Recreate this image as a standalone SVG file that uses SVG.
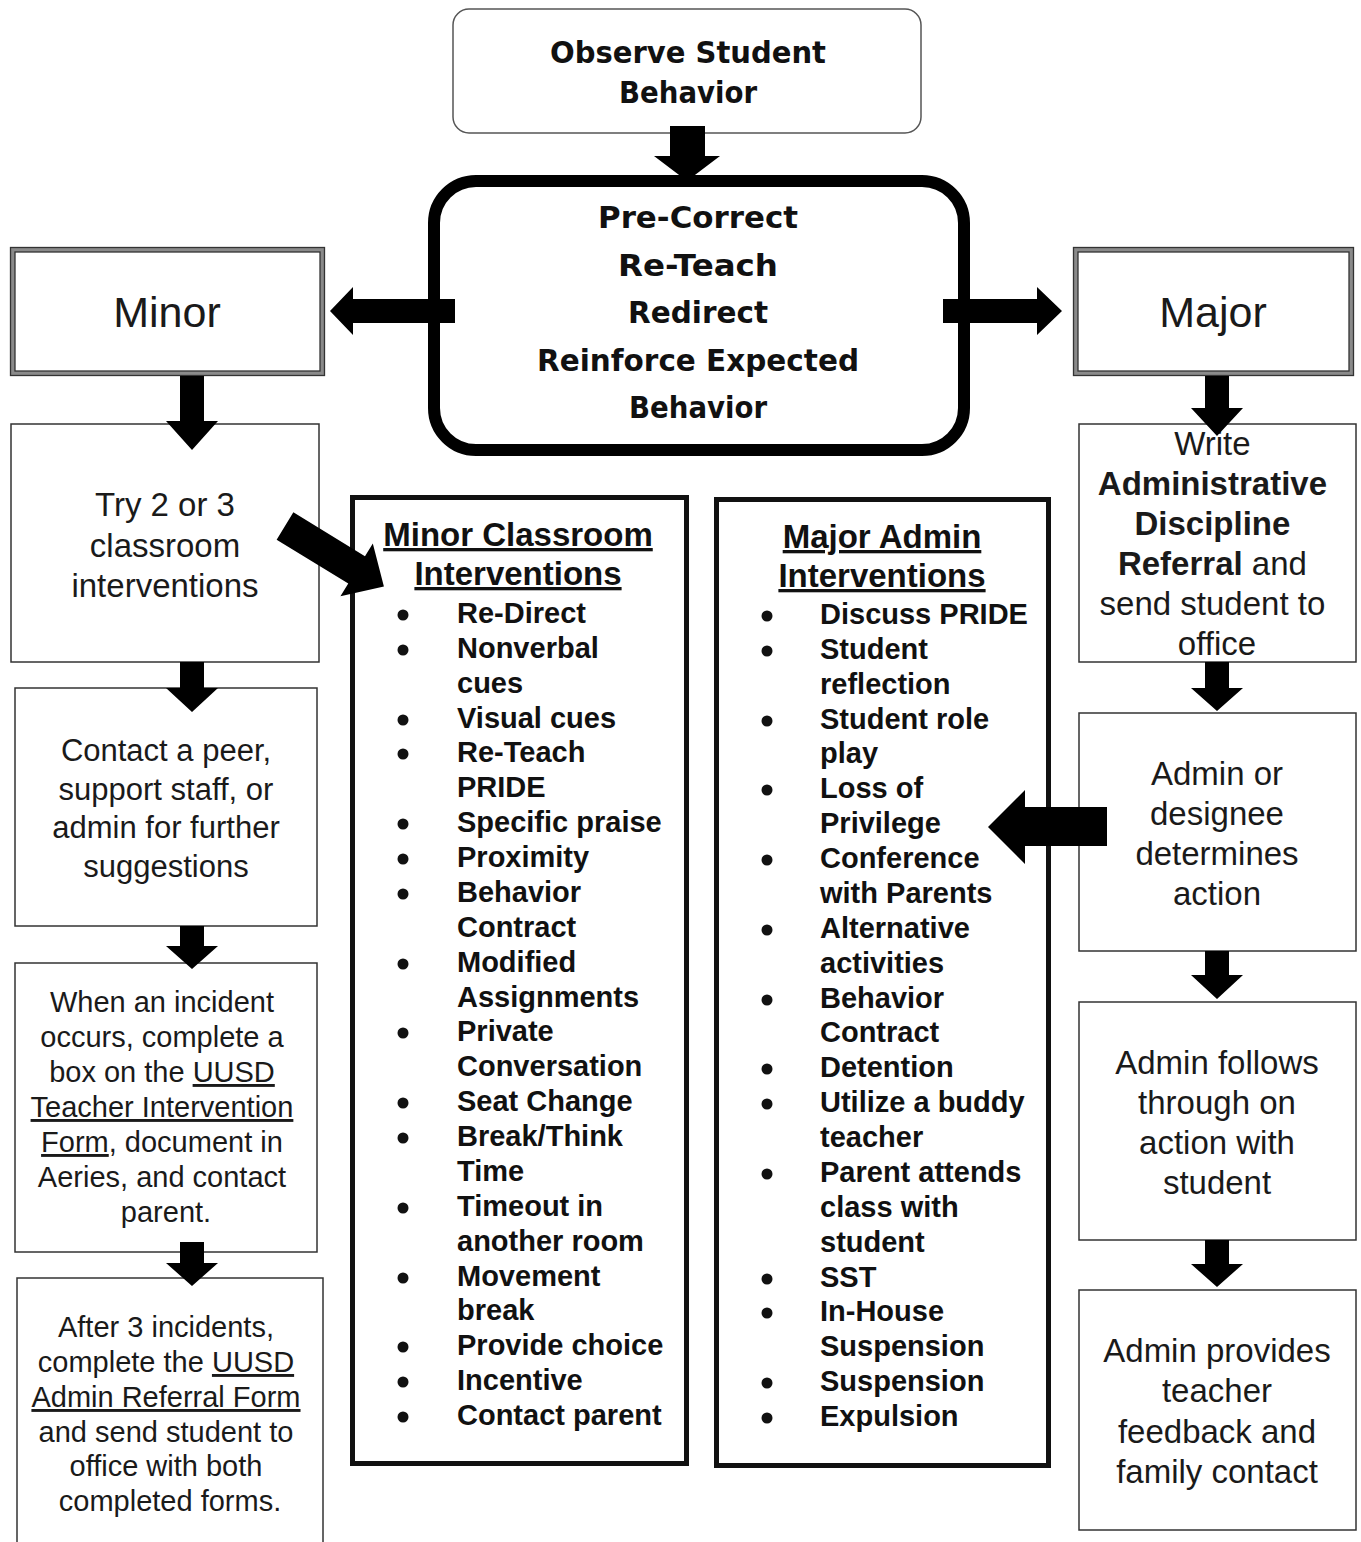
<svg xmlns="http://www.w3.org/2000/svg" width="1361" height="1542" viewBox="0 0 1361 1542">
<style>
.box{fill:#fff;stroke:#333;stroke-width:1.5}
.t{font-family:"Liberation Sans",Arial,sans-serif;fill:#1a1a1a;text-anchor:middle}
.c{font-family:"DejaVu Sans",sans-serif;font-weight:bold;fill:#111;text-anchor:middle;font-size:30px}
.li{font-family:"Liberation Sans",Arial,sans-serif;font-weight:bold;font-size:29px;fill:#111}
.hd{font-family:"Liberation Sans",Arial,sans-serif;font-weight:bold;font-size:33px;fill:#111;text-anchor:middle;text-decoration:underline}
.u{text-decoration:underline}
.b{font-weight:bold}
.dot{fill:#111}
.arrow{fill:#000}
.dbl{fill:#fff;stroke:#8a8a8a;stroke-width:5}
.dline{fill:none;stroke:#333;stroke-width:1.3}
</style>
<rect width="1361" height="1542" fill="#fff"/>

<g id="observe">
<rect x="453" y="9" width="468" height="124" rx="16" fill="#fff" stroke="#555" stroke-width="1.5"/>
<text class="c" x="688" y="63" textLength="276" lengthAdjust="spacingAndGlyphs">Observe Student</text>
<text class="c" x="688" y="103" textLength="138" lengthAdjust="spacingAndGlyphs">Behavior</text>
</g>

<g id="precorrect">
<rect x="434" y="181" width="530" height="269" rx="42" fill="#fff" stroke="#000" stroke-width="12"/>
<text class="c" x="698" y="228" font-size="32" textLength="200" lengthAdjust="spacingAndGlyphs">Pre-Correct</text>
<text class="c" x="698" y="276" textLength="160" lengthAdjust="spacingAndGlyphs">Re-Teach</text>
<text class="c" x="698" y="323" textLength="140" lengthAdjust="spacingAndGlyphs">Redirect</text>
<text class="c" x="698" y="371" textLength="322" lengthAdjust="spacingAndGlyphs">Reinforce Expected</text>
<text class="c" x="698" y="418" textLength="138" lengthAdjust="spacingAndGlyphs">Behavior</text>
</g>

<g id="minor">
<rect class="dbl" x="12.5" y="249.5" width="310" height="124"/>
<rect class="dline" x="10.5" y="247.5" width="314" height="128"/>
<rect class="dline" x="15" y="252" width="305" height="119"/>
<text class="t" x="167" y="327" font-size="43">Minor</text>
</g>

<g id="major">
<rect class="dbl" x="1075.5" y="249.5" width="276" height="124"/>
<rect class="dline" x="1073.5" y="247.5" width="280" height="128"/>
<rect class="dline" x="1078" y="252" width="271" height="119"/>
<text class="t" x="1213" y="327" font-size="43">Major</text>
</g>

<g id="try">
<rect class="box" x="11" y="424" width="308" height="238"/>
<text class="t" font-size="33"><tspan x="165" y="516">Try 2 or 3</tspan><tspan x="165" y="557">classroom</tspan><tspan x="165" y="597">interventions</tspan></text>
</g>

<g id="contact">
<rect class="box" x="15" y="688" width="302" height="238"/>
<text class="t" font-size="31"><tspan x="166" y="761">Contact a peer,</tspan><tspan x="166" y="800">support staff, or</tspan><tspan x="166" y="838">admin for further</tspan><tspan x="166" y="877">suggestions</tspan></text>
</g>

<g id="incident">
<rect class="box" x="15" y="963" width="302" height="289"/>
<text class="t" font-size="29">
<tspan x="166" y="1012">When an incident</tspan>
<tspan x="166" y="1047">occurs, complete a</tspan>
<tspan x="166" y="1082">box on the <tspan class="u">UUSD</tspan></tspan>
<tspan x="166" y="1117" class="u">Teacher Intervention</tspan>
<tspan x="166" y="1152"><tspan class="u">Form</tspan>, document in</tspan>
<tspan x="166" y="1187">Aeries, and contact</tspan>
<tspan x="166" y="1222">parent.</tspan>
</text>
</g>

<g id="after">
<rect class="box" x="17" y="1278" width="306" height="270"/>
<text class="t" font-size="29">
<tspan x="170" y="1337">After 3 incidents,</tspan>
<tspan x="170" y="1372">complete the <tspan class="u">UUSD</tspan></tspan>
<tspan x="170" y="1407" class="u">Admin Referral Form</tspan>
<tspan x="170" y="1442">and send student to</tspan>
<tspan x="170" y="1476">office with both</tspan>
<tspan x="170" y="1511">completed forms.</tspan>
</text>
</g>

<g id="minor-list">
<rect x="352.5" y="497.5" width="334" height="966" fill="#fff" stroke="#111" stroke-width="5"/>
<text class="hd" x="518" y="546">Minor Classroom</text>
<text class="hd" x="518" y="585">Interventions</text>
<g class="dot">
<circle cx="403" cy="615" r="5.5"/><circle cx="403" cy="650" r="5.5"/><circle cx="403" cy="720" r="5.5"/><circle cx="403" cy="754" r="5.5"/><circle cx="403" cy="824" r="5.5"/><circle cx="403" cy="859" r="5.5"/><circle cx="403" cy="894" r="5.5"/><circle cx="403" cy="964" r="5.5"/><circle cx="403" cy="1033" r="5.5"/><circle cx="403" cy="1103" r="5.5"/><circle cx="403" cy="1138" r="5.5"/><circle cx="403" cy="1208" r="5.5"/><circle cx="403" cy="1278" r="5.5"/><circle cx="403" cy="1347" r="5.5"/><circle cx="403" cy="1382" r="5.5"/><circle cx="403" cy="1417" r="5.5"/>
</g>
<text class="li">
<tspan x="457" y="623">Re-Direct</tspan>
<tspan x="457" y="658">Nonverbal</tspan>
<tspan x="457" y="693">cues</tspan>
<tspan x="457" y="728">Visual cues</tspan>
<tspan x="457" y="762">Re-Teach</tspan>
<tspan x="457" y="797">PRIDE</tspan>
<tspan x="457" y="832">Specific praise</tspan>
<tspan x="457" y="867">Proximity</tspan>
<tspan x="457" y="902">Behavior</tspan>
<tspan x="457" y="937">Contract</tspan>
<tspan x="457" y="972">Modified</tspan>
<tspan x="457" y="1007">Assignments</tspan>
<tspan x="457" y="1041">Private</tspan>
<tspan x="457" y="1076">Conversation</tspan>
<tspan x="457" y="1111">Seat Change</tspan>
<tspan x="457" y="1146">Break/Think</tspan>
<tspan x="457" y="1181">Time</tspan>
<tspan x="457" y="1216">Timeout in</tspan>
<tspan x="457" y="1251">another room</tspan>
<tspan x="457" y="1286">Movement</tspan>
<tspan x="457" y="1320">break</tspan>
<tspan x="457" y="1355">Provide choice</tspan>
<tspan x="457" y="1390">Incentive</tspan>
<tspan x="457" y="1425">Contact parent</tspan>
</text>
</g>

<g id="major-list">
<rect x="716.5" y="499.5" width="332" height="966" fill="#fff" stroke="#111" stroke-width="5"/>
<text class="hd" x="882" y="548">Major Admin</text>
<text class="hd" x="882" y="587">Interventions</text>
<g class="dot">
<circle cx="767" cy="616" r="5.5"/><circle cx="767" cy="651" r="5.5"/><circle cx="767" cy="721" r="5.5"/><circle cx="767" cy="790" r="5.5"/><circle cx="767" cy="860" r="5.5"/><circle cx="767" cy="930" r="5.5"/><circle cx="767" cy="1000" r="5.5"/><circle cx="767" cy="1069" r="5.5"/><circle cx="767" cy="1104" r="5.5"/><circle cx="767" cy="1174" r="5.5"/><circle cx="767" cy="1279" r="5.5"/><circle cx="767" cy="1313" r="5.5"/><circle cx="767" cy="1383" r="5.5"/><circle cx="767" cy="1418" r="5.5"/>
</g>
<text class="li">
<tspan x="820" y="624">Discuss PRIDE</tspan>
<tspan x="820" y="659">Student</tspan>
<tspan x="820" y="694">reflection</tspan>
<tspan x="820" y="729">Student role</tspan>
<tspan x="820" y="763">play</tspan>
<tspan x="820" y="798">Loss of</tspan>
<tspan x="820" y="833">Privilege</tspan>
<tspan x="820" y="868">Conference</tspan>
<tspan x="820" y="903">with Parents</tspan>
<tspan x="820" y="938">Alternative</tspan>
<tspan x="820" y="973">activities</tspan>
<tspan x="820" y="1008">Behavior</tspan>
<tspan x="820" y="1042">Contract</tspan>
<tspan x="820" y="1077">Detention</tspan>
<tspan x="820" y="1112">Utilize a buddy</tspan>
<tspan x="820" y="1147">teacher</tspan>
<tspan x="820" y="1182">Parent attends</tspan>
<tspan x="820" y="1217">class with</tspan>
<tspan x="820" y="1252">student</tspan>
<tspan x="820" y="1287">SST</tspan>
<tspan x="820" y="1321">In-House</tspan>
<tspan x="820" y="1356">Suspension</tspan>
<tspan x="820" y="1391">Suspension</tspan>
<tspan x="820" y="1426">Expulsion</tspan>
</text>
</g>

<g id="write">
<rect class="box" x="1079" y="424" width="277" height="238"/>
<text class="t" font-size="33">
<tspan x="1217" y="455">Write</tspan>
<tspan x="1217" y="495" class="b">Administrative</tspan>
<tspan x="1217" y="535" class="b">Discipline</tspan>
<tspan x="1217" y="575"><tspan class="b">Referral</tspan> and</tspan>
<tspan x="1217" y="615">send student to</tspan>
<tspan x="1217" y="655">office</tspan>
</text>
</g>

<g id="designee">
<rect class="box" x="1079" y="713" width="277" height="238"/>
<text class="t" font-size="33"><tspan x="1217" y="785">Admin or</tspan><tspan x="1217" y="825">designee</tspan><tspan x="1217" y="865">determines</tspan><tspan x="1217" y="905">action</tspan></text>
</g>

<g id="follows">
<rect class="box" x="1079" y="1002" width="277" height="238"/>
<text class="t" font-size="33"><tspan x="1217" y="1074">Admin follows</tspan><tspan x="1217" y="1114">through on</tspan><tspan x="1217" y="1154">action with</tspan><tspan x="1217" y="1194">student</tspan></text>
</g>

<g id="provides">
<rect class="box" x="1079" y="1290" width="277" height="240"/>
<text class="t" font-size="33"><tspan x="1217" y="1362">Admin provides</tspan><tspan x="1217" y="1402">teacher</tspan><tspan x="1217" y="1443">feedback and</tspan><tspan x="1217" y="1483">family contact</tspan></text>
</g>

<g id="connectors" class="arrow">
<polygon points="670,126 705,126 705,156 720,156 687,181 654,156 670,156"/>
<polygon points="455,299 353,299 353,287 330,311 353,335 353,323 455,323"/>
<polygon points="943,299 1037,299 1037,287 1062,311 1037,335 1037,323 943,323"/>
<polygon points="180,376 204,376 204,421 218,421 192,450 166,421 180,421"/>
<polygon points="1205,376 1229,376 1229,408 1243,408 1217,436 1191,408 1205,408"/>
<polygon points="180,662 204,662 204,688 218,688 192,712 166,688 180,688"/>
<polygon points="180,926 204,926 204,946 218,946 192,969 166,946 180,946"/>
<polygon points="180,1242 204,1242 204,1263 218,1263 192,1286 166,1263 180,1263"/>
<polygon points="1205,662 1229,662 1229,688 1243,688 1217,711 1191,688 1205,688"/>
<polygon points="1205,951 1229,951 1229,975 1243,975 1217,999 1191,975 1205,975"/>
<polygon points="1205,1240 1229,1240 1229,1264 1243,1264 1217,1287 1191,1264 1205,1264"/>
<polygon points="1107,807 1025,807 1025,790 988,827 1025,864 1025,846 1107,846"/>
<polygon transform="translate(285,526) rotate(31.5)" points="0,-16 84,-16 84,-31 116,0 84,31 84,16 0,16"/>
</g>
</svg>
